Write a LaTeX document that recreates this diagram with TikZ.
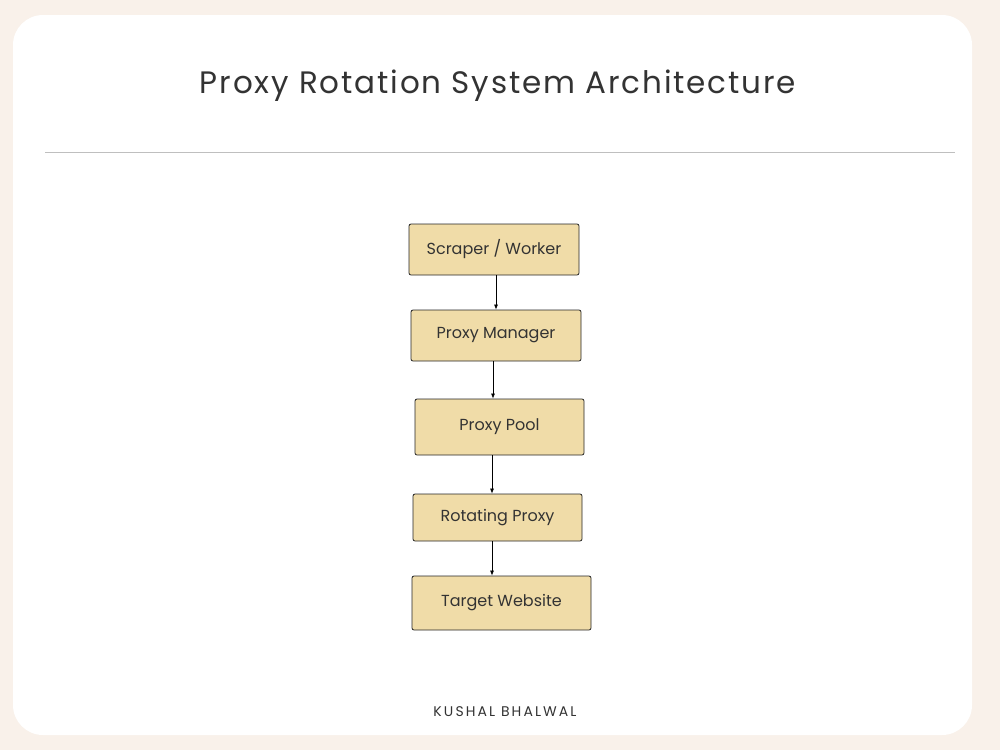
\documentclass[tikz,border=0pt]{standalone}
\usepackage{fontspec}
\setmainfont{Poppins}
\usetikzlibrary{arrows.meta}
\definecolor{bg}{HTML}{F9F1EA}
\definecolor{boxfill}{HTML}{F0DCA8}
\definecolor{txt}{HTML}{333333}
\begin{document}
\begin{tikzpicture}[x=1pt,y=-1pt,
  box/.style={draw=black!85,fill=boxfill,rounded corners=2pt,line width=0.8pt,font=\fontsize{16}{19}\selectfont,text=txt},
  arr/.style={draw=black,line width=0.7pt,-{Latex[length=5pt,width=4pt]}}]
\fill[bg] (0,0) rectangle (1000,750);
\useasboundingbox (0,0) rectangle (1000,750);
\fill[white,rounded corners=30pt] (13,15) rectangle (972,735);
\node[text=txt,font=\fontsize{31}{36}\selectfont\addfontfeatures{LetterSpace=6}] (title) at (498,86) {Proxy Rotation System Architecture};
\draw[black!25,line width=1pt] (45,152) -- (955,152);
\node[box,minimum width=170pt,minimum height=51pt] (a) at (494,249.5) {Scraper / Worker};
\node[box,minimum width=170pt,minimum height=51pt] (b) at (496,335.5) {Proxy Manager};
\node[box,minimum width=169pt,minimum height=56pt,xshift=3pt] (c) at (496.5,427) {Proxy Pool};
\node[box,minimum width=169pt,minimum height=47pt] (d) at (497.5,517.5) {Rotating Proxy};
\node[box,minimum width=179pt,minimum height=54pt] (e) at (501.5,603) {Target Website};
\draw[arr] (a.south -| 496,0) -- (b.north -| 496,0);
\draw[arr] (b.south -| 493,0) -- (c.north -| 493,0);
\draw[arr] (c.south -| 492,0) -- (d.north -| 492,0);
\draw[arr] (d.south -| 492,0) -- (e.north -| 492,0);
\node[text=txt,font=\fontsize{14}{16}\selectfont\addfontfeatures{LetterSpace=15}] (foot) at (505,712) {KUSHAL BHALWAL};
\end{tikzpicture}
\end{document}
